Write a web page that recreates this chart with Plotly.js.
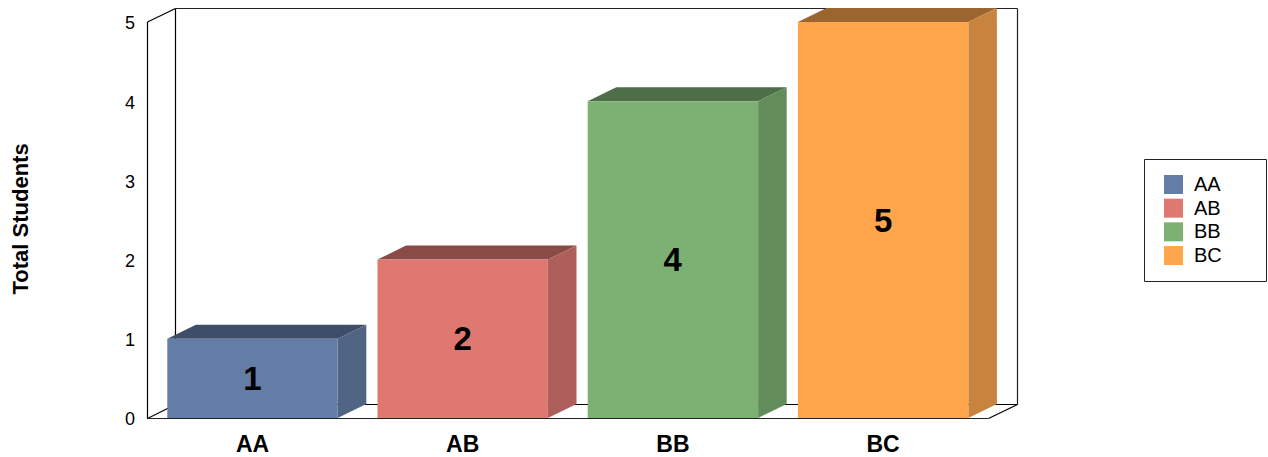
<!DOCTYPE html>
<html>
<head>
<meta charset="utf-8">
<script src="https://cdn.plot.ly/plotly-3.0.1.min.js"></script>
<style>html,body{margin:0;padding:0;background:#fff;overflow:hidden}</style>
</head>
<body>
<div id="chart" style="width:1268px;height:457px"></div>
<script>
const categories = ['AA', 'AB', 'BB', 'BC'];
const totals = [1, 2, 4, 5];
const frontColors = ['#647da6', '#e07872', '#7db173', '#ffa64d'];
const topColors = ['#3f4e68', '#8a4b47', '#4e6e48', '#9b652f'];
const sideColors = ['#506483', '#af5f5b', '#628d5b', '#c8843e'];
const yTicks = [0, 1, 2, 3, 4, 5];
const yTitle = 'Total Students';

const FONT = '"Liberation Sans", Arial, sans-serif';
const W = 1268, H = 457;
const L = 146, R = 1020, T = 6, B = 420;
const originX = 252.5, pxPerCat = 210.2;
const originY = 418, pxPerUnit = 79.2;
const dx = 28.6 / pxPerCat, dy = 14 / pxPerUnit;
const barW = 170.4 / pxPerCat;
const X = px => (px - originX) / pxPerCat;
const Y = px => (originY - px) / pxPerUnit;

function poly(pts, fill) {
  return {type: 'path', xref: 'x', yref: 'y', layer: 'below',
    path: 'M' + pts.map(p => p[0] + ',' + p[1]).join('L') + 'Z',
    fillcolor: fill, line: {width: 0}};
}
function seg(x0, y0, x1, y1, color) {
  return {type: 'line', xref: 'x', yref: 'y', layer: 'below',
    x0: X(x0), y0: Y(y0), x1: X(x1), y1: Y(y1),
    line: {color: color || '#000', width: 1.2}};
}

const shapes = [
  seg(175.5, 404.5, 1017.5, 404.5),
  seg(147.5, 418.5, 175.5, 404.5),
  seg(988.5, 418.5, 1017.5, 404.5),
  seg(147.5, 418.5, 988.5, 418.5, '#222'),
  seg(147.5, 22, 147.5, 418.5),
  seg(147.5, 22, 175.5, 8.5),
  seg(175.5, 8.5, 175.5, 404.5),
  seg(175.5, 8.5, 1017.5, 8.5, '#222'),
  seg(1017.5, 8.5, 1017.5, 404.5, '#222')
];
totals.forEach((v, i) => {
  const a = i - barW / 2, b = i + barW / 2;
  shapes.push(poly([[a, v], [b, v], [b + dx, v + dy], [a + dx, v + dy]], topColors[i]));
  shapes.push(poly([[b, 0], [b + dx, dy], [b + dx, v + dy], [b, v]], sideColors[i]));
});

// Legend box, swatches and labels ("paper" spans the plot area)
const px = x => (x - L) / (R - L), py = y => (B - y) / (B - T);
shapes.push({type: 'rect', xref: 'paper', yref: 'paper', x0: px(1144.5), x1: px(1266.5), y0: py(281.5), y1: py(159.5),
  line: {color: '#222', width: 1}, fillcolor: '#fff'});
const annotations = [{
  xref: 'paper', yref: 'paper', x: px(19.5), y: py(219), text: yTitle, textangle: -90, showarrow: false,
  xanchor: 'center', yanchor: 'middle', font: {family: FONT, size: 22, color: '#000', weight: 700}
}];
categories.forEach((c, i) => {
  const cy = 184 + i * 23.67;
  shapes.push({type: 'rect', xref: 'paper', yref: 'paper', x0: px(1164), x1: px(1183), y0: py(cy + 10), y1: py(cy - 9),
    fillcolor: frontColors[i], line: {width: 0}});
  annotations.push({xref: 'paper', yref: 'paper', x: px(1194), y: py(cy), text: c, showarrow: false,
    xanchor: 'left', yanchor: 'middle', borderpad: 0, borderwidth: 0, font: {family: FONT, size: 20, color: '#000'}});
});

const trace = {
  type: 'bar', x: categories, y: totals, width: barW, text: totals.map(String),
  textposition: 'inside', insidetextanchor: 'middle', textangle: 0, constraintext: 'none',
  textfont: {family: FONT, size: 33, color: '#000', weight: 700},
  marker: {color: frontColors, line: {width: 0}},
  hoverinfo: 'x+y', showlegend: false
};
const layout = {
  width: W, height: H, autosize: false, showlegend: false,
  paper_bgcolor: '#fff', plot_bgcolor: 'rgba(0,0,0,0)',
  margin: {l: L, r: W - R, t: T, b: H - B, pad: 0},
  font: {family: FONT, color: '#000'},
  xaxis: {type: 'category', categoryorder: 'array', categoryarray: categories,
    range: [X(L), X(R)], showgrid: false, zeroline: false, showline: false, ticks: '',
    tickfont: {family: FONT, size: 23, color: '#000', weight: 700}, ticklabelstandoff: 8, automargin: false},
  yaxis: {range: [Y(B), Y(T)], tickmode: 'array', tickvals: yTicks, ticktext: yTicks.map(String),
    showgrid: false, zeroline: false, showline: false, ticks: '',
    tickfont: {family: FONT, size: 18, color: '#000'}, ticklabelstandoff: 10, ticklabelshift: 1, automargin: false},
  shapes, annotations
};
Plotly.newPlot('chart', [trace], layout, {displayModeBar: false, staticPlot: true});
</script>
</body>
</html>
